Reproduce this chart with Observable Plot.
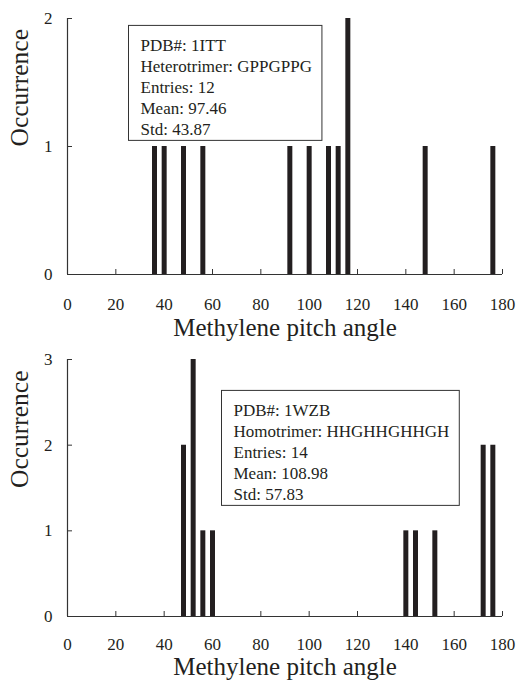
<!DOCTYPE html>
<html>
<head>
<meta charset="utf-8">
<script src="https://cdn.jsdelivr.net/npm/d3@7"></script>
<script src="https://cdn.jsdelivr.net/npm/@observablehq/plot@0.6"></script>
<style>
  body { margin: 0; background: #fff; }
  #chart svg { display: block; }
</style>
</head>
<body>
<div id="chart"></div>
<script>
// ---- data ----
const xTicks = [0, 20, 40, 60, 80, 100, 120, 140, 160, 180];
const xLabel = "Methylene pitch angle";
const yLabel = "Occurrence";

const topAngles = [36, 40, 48, 56, 92, 100, 108, 112, 116, 148, 176];
const topCounts = [1, 1, 1, 1, 1, 1, 1, 1, 2, 1, 1];
const topYTicks = [0, 1, 2];
const topInfo = ["PDB#: 1ITT", "Heterotrimer: GPPGPPG", "Entries: 12", "Mean: 97.46", "Std: 43.87"];

const botAngles = [48, 52, 56, 60, 140, 144, 152, 172, 176];
const botCounts = [2, 3, 1, 1, 1, 1, 1, 2, 2];
const botYTicks = [0, 1, 2, 3];
const botInfo = ["PDB#: 1WZB", "Homotrimer: HHGHHGHHGH", "Entries: 14", "Mean: 108.98", "Std: 57.83"];

const ink = "#231f20";
const font = "'Liberation Serif', 'Times New Roman', serif";

function panel({angles, counts, yTicks, info, height, marginTop, marginBottom, infoDx, infoDy, titleDy, labelPad}) {
  const data = angles.map((a, i) => ({angle: a, count: counts[i]}));
  const yMax = yTicks[yTicks.length - 1];
  return Plot.plot({
    width: 517,
    height,
    marginTop,
    marginBottom,
    marginLeft: 67,
    marginRight: 15,
    style: {fontFamily: font, fontSize: "17px", color: ink, background: "#fff", overflow: "visible"},
    x: {domain: [0, 180]},
    y: {domain: [0, yMax]},
    marks: [
      Plot.ruleY([0], {stroke: "#333", strokeWidth: 1.2}),
      Plot.ruleX([0], {stroke: "#333", strokeWidth: 1.2}),
      Plot.axisX({ticks: xTicks, tickSize: -5, tickPadding: labelPad, label: null, fontSize: 17, stroke: "#333", tickFormat: d => String(d)}),
      Plot.axisY({ticks: yTicks, tickSize: -5, tickPadding: 20, label: null, fontSize: 17, stroke: "#333", tickFormat: d => String(d)}),
      Plot.ruleX(data, {x: "angle", y1: 0, y2: "count", stroke: ink, strokeWidth: 5}),
      Plot.text([xLabel], {text: d => d, frameAnchor: "bottom", dy: titleDy, fontSize: 25, fill: ink}),
      Plot.text([yLabel], {text: d => d, frameAnchor: "left", dx: -48, rotate: -90, fontSize: 25.5, fill: ink}),
      Plot.text([info.join("\n")], {text: d => d, frameAnchor: "top-left", dx: infoDx, dy: infoDy,
        textAnchor: "start", lineAnchor: "top", lineHeight: 1.235, fontSize: 17, fill: ink})
    ]
  });
}

const chart = document.getElementById("chart");
const p1 = panel({angles: topAngles, counts: topCounts, yTicks: topYTicks, info: topInfo,
  height: 345, marginTop: 18, marginBottom: 71, infoDx: 73, infoDy: 17.5, titleDy: 61, labelPad: 28});
const p2 = panel({angles: botAngles, counts: botCounts, yTicks: botYTicks, info: botInfo,
  height: 341, marginTop: 14, marginBottom: 70, infoDx: 166, infoDy: 41.5, titleDy: 58, labelPad: 26});
chart.append(p1, p2);

// draw a box around each annotation
for (const svg of [p1, p2]) {
  const t = Array.from(svg.querySelectorAll("text")).find(el => el.textContent.startsWith("PDB#"));
  if (!t) continue;
  const b = t.getBBox();
  const r = document.createElementNS("http://www.w3.org/2000/svg", "rect");
  r.setAttribute("x", b.x - 12);
  r.setAttribute("y", b.y - 10.5);
  r.setAttribute("width", b.width + 22);
  r.setAttribute("height", b.height + 12);
  r.setAttribute("fill", "#fff");
  r.setAttribute("stroke", "#333");
  r.setAttribute("stroke-width", 1);
  const tr = t.getAttribute("transform");
  if (tr) r.setAttribute("transform", tr);
  t.parentNode.insertBefore(r, t);
}
</script>
</body>
</html>
